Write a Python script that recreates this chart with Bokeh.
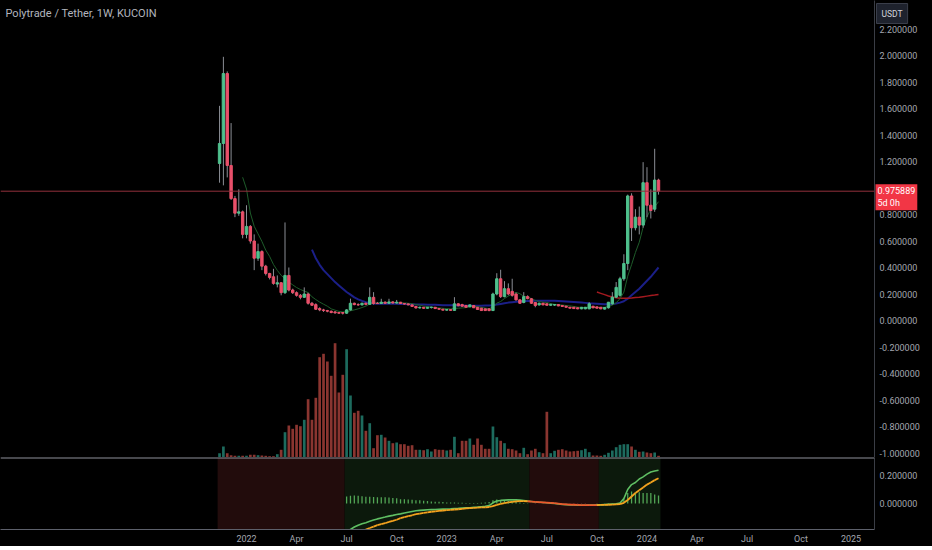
import numpy as np
import pandas as pd
from bokeh.plotting import figure
from bokeh.layouts import column
from bokeh.models import (ColumnDataSource, Range1d, FixedTicker, PrintfTickFormatter,
                          CustomJSTickFormatter, Span, Label, BoxAnnotation)
from bokeh.embed import file_html
from bokeh.resources import INLINE

NaN = float("nan")

# ---------------- data (weekly candles, POLYTRADE/USDT, KuCoin) ----------------
first_week = "2021-11-15"

opens = [1.185, 1.336, 1.864, 1.17, 0.92, 0.81, 0.82, 0.65, 0.71, 0.60,
         0.47, 0.52, 0.41, 0.355, 0.33, 0.275, 0.285, 0.21, 0.34, 0.23,
         0.21, 0.19, 0.175, 0.20, 0.13, 0.12, 0.09, 0.08, 0.075, 0.07,
         0.065, 0.06, 0.06, 0.055, 0.08, 0.13, 0.12, 0.118, 0.13, 0.122,
         0.175, 0.13, 0.128, 0.138, 0.13, 0.14, 0.132, 0.138, 0.128, 0.125,
         0.118, 0.106, 0.095, 0.10, 0.092, 0.098, 0.10, 0.09, 0.085, 0.078,
         0.083, 0.076, 0.126, 0.12, 0.113, 0.104, 0.113, 0.10, 0.093, 0.088,
         0.088, 0.075, 0.20, 0.315, 0.18, 0.24, 0.22, 0.20, 0.156, 0.136,
         0.18, 0.164, 0.136, 0.118, 0.13, 0.126, 0.115, 0.116, 0.12, 0.113,
         0.108, 0.10, 0.10, 0.096, 0.088, 0.088, 0.088, 0.108, 0.103, 0.10,
         0.086, 0.096, 0.126, 0.176, 0.19, 0.315, 0.43, 0.94, 0.70, 0.78,
         0.72, 1.04, 0.87, 0.84, 1.06]

highs = [1.62, 1.99, 1.88, 1.49, 0.94, 0.99, 0.83, 0.87, 0.72, 0.65,
         0.58, 0.53, 0.42, 0.36, 0.39, 0.34, 0.29, 0.74, 0.40, 0.24,
         0.22, 0.20, 0.25, 0.21, 0.14, 0.13, 0.10, 0.088, 0.08, 0.075,
         0.07, 0.065, 0.063, 0.085, 0.165, 0.135, 0.13, 0.135, 0.135, 0.25,
         0.214, 0.14, 0.164, 0.145, 0.164, 0.145, 0.155, 0.14, 0.132, 0.128,
         0.12, 0.11, 0.105, 0.102, 0.102, 0.104, 0.102, 0.094, 0.088, 0.086,
         0.085, 0.176, 0.13, 0.126, 0.118, 0.12, 0.116, 0.102, 0.095, 0.09,
         0.09, 0.21, 0.357, 0.383, 0.297, 0.28, 0.315, 0.21, 0.16, 0.214,
         0.19, 0.17, 0.14, 0.135, 0.133, 0.13, 0.126, 0.124, 0.122, 0.115,
         0.11, 0.102, 0.102, 0.098, 0.102, 0.102, 0.138, 0.11, 0.105, 0.102,
         0.10, 0.14, 0.214, 0.29, 0.33, 0.50, 0.95, 0.96, 0.84, 0.86,
         1.195, 1.157, 0.99, 1.296, 1.07]

lows = [1.04, 1.02, 1.08, 0.91, 0.78, 0.79, 0.62, 0.62, 0.58, 0.38,
        0.45, 0.38, 0.34, 0.31, 0.27, 0.25, 0.19, 0.20, 0.22, 0.20,
        0.18, 0.16, 0.17, 0.12, 0.11, 0.08, 0.07, 0.065, 0.062, 0.055,
        0.05, 0.05, 0.045, 0.05, 0.075, 0.115, 0.11, 0.113, 0.115, 0.12,
        0.12, 0.125, 0.125, 0.125, 0.125, 0.128, 0.128, 0.125, 0.12, 0.115,
        0.103, 0.09, 0.09, 0.088, 0.09, 0.09, 0.088, 0.082, 0.076, 0.074,
        0.072, 0.074, 0.108, 0.104, 0.098, 0.10, 0.094, 0.08, 0.072, 0.072,
        0.07, 0.072, 0.19, 0.17, 0.175, 0.19, 0.18, 0.15, 0.125, 0.13,
        0.16, 0.125, 0.10, 0.112, 0.115, 0.112, 0.11, 0.11, 0.108, 0.103,
        0.098, 0.09, 0.088, 0.085, 0.085, 0.085, 0.085, 0.092, 0.09, 0.085,
        0.083, 0.09, 0.12, 0.17, 0.18, 0.30, 0.38, 0.60, 0.68, 0.65,
        0.70, 0.78, 0.77, 0.82, 0.95]

closes = [1.336, 1.864, 1.17, 0.92, 0.81, 0.82, 0.65, 0.71, 0.60, 0.47,
          0.52, 0.41, 0.355, 0.325, 0.28, 0.285, 0.21, 0.34, 0.23, 0.21,
          0.19, 0.175, 0.20, 0.13, 0.115, 0.085, 0.08, 0.075, 0.07, 0.06,
          0.058, 0.055, 0.055, 0.08, 0.13, 0.12, 0.118, 0.13, 0.122, 0.175,
          0.128, 0.128, 0.138, 0.13, 0.14, 0.132, 0.138, 0.128, 0.124, 0.118,
          0.106, 0.095, 0.10, 0.092, 0.10, 0.101, 0.09, 0.085, 0.078, 0.083,
          0.076, 0.126, 0.111, 0.108, 0.10, 0.118, 0.096, 0.083, 0.075, 0.075,
          0.075, 0.20, 0.315, 0.18, 0.24, 0.20, 0.19, 0.156, 0.13, 0.18,
          0.165, 0.13, 0.113, 0.13, 0.118, 0.115, 0.122, 0.121, 0.11, 0.106,
          0.10, 0.093, 0.09, 0.088, 0.10, 0.10, 0.126, 0.096, 0.093, 0.088,
          0.098, 0.138, 0.176, 0.25, 0.315, 0.43, 0.94, 0.70, 0.78, 0.72,
          1.04, 0.87, 0.83, 1.06, 0.975889]

# weekly volume, millions of PT
volume_m = [0.43, 1.1, 0.43, 0.23, 0.17, 0.17, 0.17, 0.17, 0.27, 0.27,
            0.23, 0.2, 0.17, 0.13, 0.13, 0.33, 0.77, 2.53, 3.2, 2.87,
            3.27, 3.13, 3.77, 5.83, 3.77, 5.97, 10.03, 10.37, 9.6, 8.17,
            11.43, 6.5, 8.27, 10.83, 6.2, 4.47, 4.67, 4.2, 2.67, 3.43,
            0.93, 2.23, 2.27, 2.0, 1.67, 1.43, 1.5, 1.33, 1.33, 1.17,
            1.23, 0.77, 0.77, 0.73, 0.83, 0.6, 0.83, 0.77, 0.77, 0.7,
            0.77, 2.07, 0.43, 1.67, 1.67, 1.9, 1.27, 1.9, 1.27, 0.87,
            0.87, 3.1, 2.03, 1.67, 1.43, 0.87, 0.83, 0.7, 0.43, 0.97,
            0.33, 0.7, 0.87, 0.53, 0.43, 4.57, 0.43, 0.67, 0.77, 0.83,
            0.7, 0.6, 0.63, 0.67, 0.73, 0.87, 0.53, 0.2, 0.2, 0.17,
            0.27, 0.47, 0.7, 1.03, 1.27, 1.33, 1.33, 1.1, 0.77, 0.57,
            0.6, 0.5, 0.43, 0.5, 0.17]

# moving averages (fast green, mid blue, slow red)
ma_fast = [NaN] * 6 + [
    1.081, 0.992, 0.811, 0.711, 0.654, 0.597, 0.531, 0.484, 0.423, 0.378,
    0.341, 0.315, 0.289, 0.269, 0.249, 0.234, 0.222, 0.211, 0.179, 0.158,
    0.139, 0.123, 0.108, 0.088, 0.078, 0.069, 0.065, 0.065, 0.073, 0.080,
    0.088, 0.098, 0.108, 0.125, 0.132, 0.132, 0.134, 0.136, 0.137, 0.139,
    0.133, 0.133, 0.133, 0.130, 0.127, 0.120, 0.116, 0.109, 0.105, 0.102,
    0.098, 0.095, 0.092, 0.090, 0.088, 0.091, 0.093, 0.095, 0.097, 0.103,
    0.105, 0.106, 0.099, 0.094, 0.089, 0.103, 0.131, 0.143, 0.166, 0.184,
    0.200, 0.212, 0.202, 0.182, 0.180, 0.164, 0.152, 0.143, 0.138, 0.136,
    0.128, 0.121, 0.118, 0.117, 0.113, 0.110, 0.106, 0.101, 0.098, 0.097,
    0.100, 0.099, 0.099, 0.099, 0.100, 0.106, 0.116, 0.134, 0.165, 0.214,
    0.335, 0.421, 0.513, 0.591, 0.704, 0.783, 0.840, 0.857, 0.897]

ma_mid = [NaN] * 24 + [
    0.535, 0.47, 0.42, 0.38, 0.35, 0.32, 0.29, 0.265, 0.24, 0.215,
    0.195, 0.175, 0.16, 0.148, 0.138, 0.132, 0.128, 0.127, 0.126, 0.126,
    0.126, 0.126, 0.126, 0.125, 0.124, 0.123, 0.122, 0.121, 0.12, 0.12,
    0.119, 0.118, 0.118, 0.117, 0.116, 0.116, 0.115, 0.115, 0.114, 0.113,
    0.112, 0.112, 0.112, 0.112, 0.112, 0.113, 0.113, 0.115, 0.12, 0.125,
    0.13, 0.135, 0.138, 0.141, 0.143, 0.145, 0.147, 0.148, 0.149, 0.149,
    0.15, 0.15, 0.15, 0.149, 0.148, 0.146, 0.144, 0.142, 0.14, 0.138,
    0.136, 0.133, 0.13, 0.128, 0.126, 0.124, 0.122, 0.122, 0.124, 0.128,
    0.135, 0.145, 0.165, 0.19, 0.215, 0.24, 0.27, 0.30, 0.33, 0.365, 0.40]

ma_slow = [NaN] * 98 + [
    0.215, 0.205, 0.195, 0.185, 0.178, 0.172, 0.168, 0.167, 0.168, 0.17,
    0.173, 0.176, 0.18, 0.184, 0.188, 0.192, 0.197]

# lower pane oscillator: fast line (green) and signal line (orange)
osc_fast = [NaN] * 33 + [
    -0.21, -0.185, -0.168, -0.155, -0.145, -0.137, -0.127, -0.118, -0.110, -0.103,
    -0.097, -0.090, -0.085, -0.079, -0.074, -0.068, -0.062, -0.057, -0.052, -0.049,
    -0.047, -0.045, -0.044, -0.043, -0.041, -0.040, -0.039, -0.038, -0.036, -0.035,
    -0.033, -0.031, -0.030, -0.028, -0.026, -0.023, -0.020, -0.015, 0.005, 0.018,
    0.022, 0.024, 0.026, 0.027, 0.026, 0.024, 0.021, 0.017, 0.014, 0.011,
    0.009, 0.007, 0.005, 0.003, 0.0, -0.003, -0.006, -0.008, -0.010, -0.011,
    -0.012, -0.012, -0.012, -0.011, -0.011, -0.010, -0.010, -0.008, -0.006, -0.004,
    -0.002, 0.004, 0.035, 0.10, 0.135, 0.15, 0.175, 0.19, 0.21, 0.225, 0.232, 0.238]

osc_signal = [NaN] * 33 + [
    -0.26, -0.24, -0.225, -0.21, -0.197, -0.186, -0.175, -0.165, -0.155, -0.148,
    -0.141, -0.132, -0.124, -0.116, -0.105, -0.098, -0.091, -0.084, -0.076, -0.072,
    -0.067, -0.063, -0.059, -0.056, -0.053, -0.050, -0.047, -0.045, -0.043, -0.041,
    -0.038, -0.035, -0.033, -0.031, -0.029, -0.028, -0.027, -0.025, -0.018, -0.010,
    -0.003, 0.003, 0.008, 0.012, 0.015, 0.017, 0.017, 0.016, 0.014, 0.012,
    0.010, 0.008, 0.006, 0.004, 0.002, -0.001, -0.004, -0.006, -0.008, -0.009,
    -0.010, -0.011, -0.011, -0.011, -0.011, -0.011, -0.010, -0.010, -0.009, -0.008,
    -0.006, -0.004, 0.005, 0.025, 0.05, 0.075, 0.095, 0.115, 0.135, 0.15, 0.167, 0.18]

# trend regime (background of lower pane)
regime_starts = ["2021-11-15", "2022-07-04", "2023-06-05", "2023-10-09"]
regime_kinds = ["bear", "bull", "bear", "bull"]

last_price = 0.975889
price_ticks = [-1.0, -0.8, -0.6, -0.4, -0.2, 0.0, 0.2, 0.4, 0.6, 0.8,
               1.2, 1.4, 1.6, 1.8, 2.0, 2.2]
osc_ticks = [0.0, 0.2]
time_ticks = ["2022-01-03", "2022-04-04", "2022-07-04", "2022-10-03", "2023-01-02",
              "2023-04-03", "2023-07-03", "2023-10-02", "2024-01-01", "2024-04-01",
              "2024-07-01", "2024-10-07", "2025-01-06"]
time_labels = ["2022", "Apr", "Jul", "Oct", "2023", "Apr", "Jul", "Oct", "2024",
               "Apr", "Jul", "Oct", "2025"]

# ---------------- styling / geometry ----------------
BG = "#000000"
UP = "#4fc08d"
DN = "#e9506a"
WICK = "#8a8d94"
VOL_UP = "#1d6b5e"
VOL_DN = "#8a3530"
AXIS_TXT = "#a3a6af"
AXIS_LINE = "#3a3d45"
FONT = "Roboto"

FW = 874          # plot frame width
TOP_H = 457       # price pane height
OSC_H = 72        # oscillator pane height
DAY = 86400000.0
WEEK = 7 * DAY


def ms(d):
    return float(pd.Timestamp(d).value // 10**6)


n = len(closes)
dates = pd.date_range(first_week, periods=n, freq="7D")
xs = np.array([ms(d) for d in dates])

px_per_day = 0.5501
anchor = ms("2022-01-03")
x_start = anchor - 246 / px_per_day * DAY
x_end = anchor + (FW - 246) / px_per_day * DAY

price_top = 320 / 132.5
price_bot = (320 - TOP_H) / 132.5
osc_top = (503 - 457) / 140
osc_bot = (503 - 457 - OSC_H) / 140

up = [c >= o for o, c in zip(opens, closes)]
src = ColumnDataSource(dict(
    x=xs, o=opens, h=highs, l=lows, c=closes,
    top=np.maximum(opens, closes), bot=np.minimum(opens, closes),
    body=[UP if u else DN for u in up],
    volc=[VOL_UP if u else VOL_DN for u in up],
    vol=volume_m,
    maf=ma_fast, mam=ma_mid, mas=ma_slow,
))

# ---------------- price pane ----------------
p = figure(frame_width=FW, frame_height=TOP_H,
           x_range=Range1d(x_start, x_end), y_range=Range1d(price_bot, price_top),
           output_backend="svg", toolbar_location=None,
           x_axis_location=None, y_axis_location="right",
           background_fill_color=BG, border_fill_color=BG,
           min_border=0, outline_line_color=None)
p.grid.visible = False
p.extra_y_ranges = {"vol": Range1d(0, TOP_H / 10.0)}

p.vbar(x="x", top="vol", bottom=0, width=WEEK * 0.7, fill_color="volc",
       line_color=None, y_range_name="vol", source=src)
p.line("x", "mam", line_color="#1b1f88", line_width=2, source=src)
p.line("x", "mas", line_color="#a3191f", line_width=1.5, source=src)
p.line("x", "maf", line_color="#1e5c2a", line_width=1, source=src)
p.segment(x0="x", y0="h", x1="x", y1="l", line_color=WICK, line_width=1, source=src)
p.vbar(x="x", top="top", bottom="bot", width=WEEK * 0.62, fill_color="body",
       line_color="body", line_width=1, source=src)

p.add_layout(Span(location=last_price, dimension="width", line_color="#93303c",
                  line_width=1))

yax = p.yaxis[0]
yax.ticker = FixedTicker(ticks=price_ticks)
yax.formatter = PrintfTickFormatter(format="%.6f")
yax.major_label_text_color = AXIS_TXT
yax.major_label_text_font = FONT
yax.major_label_text_font_size = "9px"
yax.major_tick_line_color = None
yax.minor_tick_line_color = None
yax.major_tick_out = 0
yax.major_tick_in = 0
yax.axis_line_color = AXIS_LINE
yax.major_label_standoff = 5

p.add_layout(Label(x=5, y=TOP_H - 6, x_units="screen", y_units="screen",
                   text="Polytrade / Tether, 1W, KUCOIN", text_baseline="top",
                   text_color="#b2b5be", text_font=FONT, text_font_size="11px"))
# labels living in the price-scale area (side panel, so not clipped to the frame)
p.add_layout(Label(x=x_end, y=price_top, x_units="data", y_units="data",
                   x_offset=2, y_offset=-3,
                   text="USDT", text_baseline="top", text_color="#d1d4dc",
                   text_font=FONT, text_font_size="8.5px",
                   background_fill_color="#1e222d", border_line_color="#3a3e4a",
                   padding=5), "right")
p.add_layout(Label(x=x_end, y=last_price, x_units="data", y_units="data",
                   x_offset=1, y_offset=7, text="%.6f\n5d 0h" % last_price,
                   text_baseline="top", text_color="#ffffff", text_font=FONT,
                   text_font_size="9px", background_fill_color="#f23645",
                   padding=2), "right")

# ---------------- oscillator pane ----------------
q = figure(frame_width=FW, frame_height=OSC_H,
           x_range=p.x_range, y_range=Range1d(osc_bot, osc_top),
           output_backend="svg", toolbar_location=None,
           y_axis_location="right",
           background_fill_color=BG, border_fill_color=BG,
           min_border=0, outline_line_color=None)
q.grid.visible = False

reg_ms = [ms(d) for d in regime_starts]
reg_bounds = [r - 3.5 * DAY for r in reg_ms] + [xs[-1] + 3.5 * DAY]
for i, kind in enumerate(regime_kinds):
    q.add_layout(BoxAnnotation(left=reg_bounds[i], right=reg_bounds[i + 1],
                               fill_color="#220c0c" if kind == "bear" else "#0c190c",
                               fill_alpha=1.0, line_color=None, level="underlay"))

fast = np.array(osc_fast)
sig = np.array(osc_signal)
hist = fast - sig


def regime_of(x):
    k = regime_kinds[0]
    for s, kind in zip(reg_ms, regime_kinds):
        if x >= s - 3.5 * DAY:
            k = kind
    return k


osrc = ColumnDataSource(dict(
    x=xs, fast=fast, sig=sig, hist=hist,
    hcol=["#5fbf63" if (h >= 0 or np.isnan(h)) else "#e06060" for h in hist],
))
q.vbar(x="x", top="hist", bottom=0, width=WEEK * 0.33, fill_color="hcol",
       line_color=None, fill_alpha=0.85, source=osrc)
q.line("x", "fast", line_color="#5fbf63", line_width=1.6, source=osrc)

seg = dict(x0=[], y0=[], x1=[], y1=[], c=[])
for i in range(1, n):
    if np.isnan(sig[i - 1]) or np.isnan(sig[i]):
        continue
    seg["x0"].append(xs[i - 1]); seg["y0"].append(sig[i - 1])
    seg["x1"].append(xs[i]); seg["y1"].append(sig[i])
    seg["c"].append("#f0562a" if regime_of(xs[i]) == "bear" else "#f5a31e")
q.segment(x0="x0", y0="y0", x1="x1", y1="y1", line_color="c", line_width=1.8,
          source=ColumnDataSource(seg))

q.add_layout(Span(location=osc_top, dimension="width", line_color="#8d9099",
                  line_width=2))

qy = q.yaxis[0]
qy.ticker = FixedTicker(ticks=osc_ticks)
qy.formatter = PrintfTickFormatter(format="%.6f")
qy.major_label_text_color = AXIS_TXT
qy.major_label_text_font = FONT
qy.major_label_text_font_size = "9px"
qy.major_tick_line_color = None
qy.minor_tick_line_color = None
qy.major_tick_out = 0
qy.major_tick_in = 0
qy.axis_line_color = AXIS_LINE
qy.major_label_standoff = 5

qx = q.xaxis[0]
qx.ticker = FixedTicker(ticks=[ms(d) for d in time_ticks])
qx.formatter = CustomJSTickFormatter(
    args=dict(tks=[ms(d) for d in time_ticks], labels=time_labels),
    code="""
    let best = -1, bd = Infinity;
    for (let i = 0; i < tks.length; i++) {
        const d = Math.abs(tks[i] - tick);
        if (d < bd) { bd = d; best = i; }
    }
    return bd < 86400000 ? labels[best] : "";
    """)
qx.major_label_text_color = AXIS_TXT
qx.major_label_text_font = FONT
qx.major_label_text_font_size = "9px"
qx.major_tick_line_color = None
qx.minor_tick_line_color = None
qx.major_tick_out = 0
qx.major_tick_in = 0
qx.axis_line_color = "#5d606b"
qx.major_label_standoff = 4

layout = column(p, q, spacing=0, background=BG)
open("out.html", "w").write(file_html(layout, INLINE))
